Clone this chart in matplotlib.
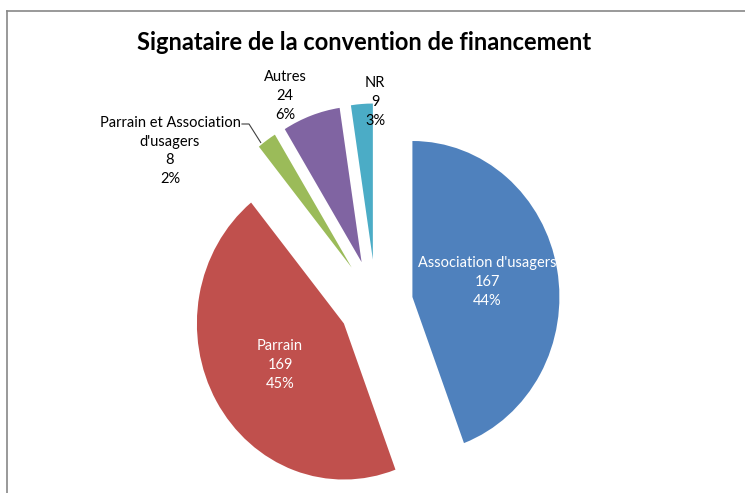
import numpy as np
import matplotlib
matplotlib.use("Agg")
import matplotlib.pyplot as plt
from matplotlib.lines import Line2D

plt.rcParams['font.family'] = ['Lato', 'DejaVu Sans']

# data
labels = ["Association d'usagers", "Parrain", "Parrain et Association\nd'usagers", "Autres", "NR"]
values = [167, 169, 8, 24, 9]
pcts = ["44%", "45%", "2%", "6%", "3%"]
colors = ["#4F81BD", "#C0504D", "#9BBB59", "#8064A2", "#4BACC6"]
explode = [37, 37, 42, 42, 42]

W, H = 745, 493
sy = 156 / 147.0  # pie looks a bit stretched vertically

fig = plt.figure(figsize=(W / 100, H / 100), dpi=100)
ax = fig.add_axes([0, 0, 1, 1])

def yd(yi):
    # image pixel y -> data y
    return (H - yi) / sy

wedges, _ = ax.pie(values, colors=colors, startangle=90, counterclock=False,
                   radius=147, center=(376, yd(304)), explode=explode,
                   wedgeprops=dict(linewidth=0))
ax.set_aspect('auto')
ax.set_xlim(0, W)
ax.set_ylim(0, H / sy)
ax.axis('off')

# data labels
txt = [f"{l}\n{v}\n{p}" for l, v, p in zip(labels, values, pcts)]
pos = [(487, 282), (280, 365), (170, 151), (285, 96), (375, 102)]
tcol = ["white", "white", "black", "black", "black"]
for t, (px, py), c in zip(txt, pos, tcol):
    ax.text(px, yd(py), t, color=c, fontsize=10.5, ha='center', va='center',
            linespacing=1.45)

# leader line for the small green slice
w = wedges[2]
th = np.deg2rad((w.theta1 + w.theta2) / 2)
ex, ey = w.center[0] + w.r * np.cos(th), w.center[1] + w.r * np.sin(th)
ax.plot([242, 249, ex - 6], [yd(124), yd(124), ey - 2], color="#404040", lw=0.8)

fig.text(364 / W, 1 - 43 / H, "Signataire de la convention de financement",
         fontsize=17, fontweight='bold', ha='center', va='center')

# chart area border (left and top only visible)
fig.add_artist(Line2D([7.5 / W, 7.5 / W], [0, 1 - 11 / H], color="#888888", lw=1.2))
fig.add_artist(Line2D([7.5 / W, 1], [1 - 11 / H, 1 - 11 / H], color="#888888", lw=1.2))

fig.savefig("out.png", dpi=100)
